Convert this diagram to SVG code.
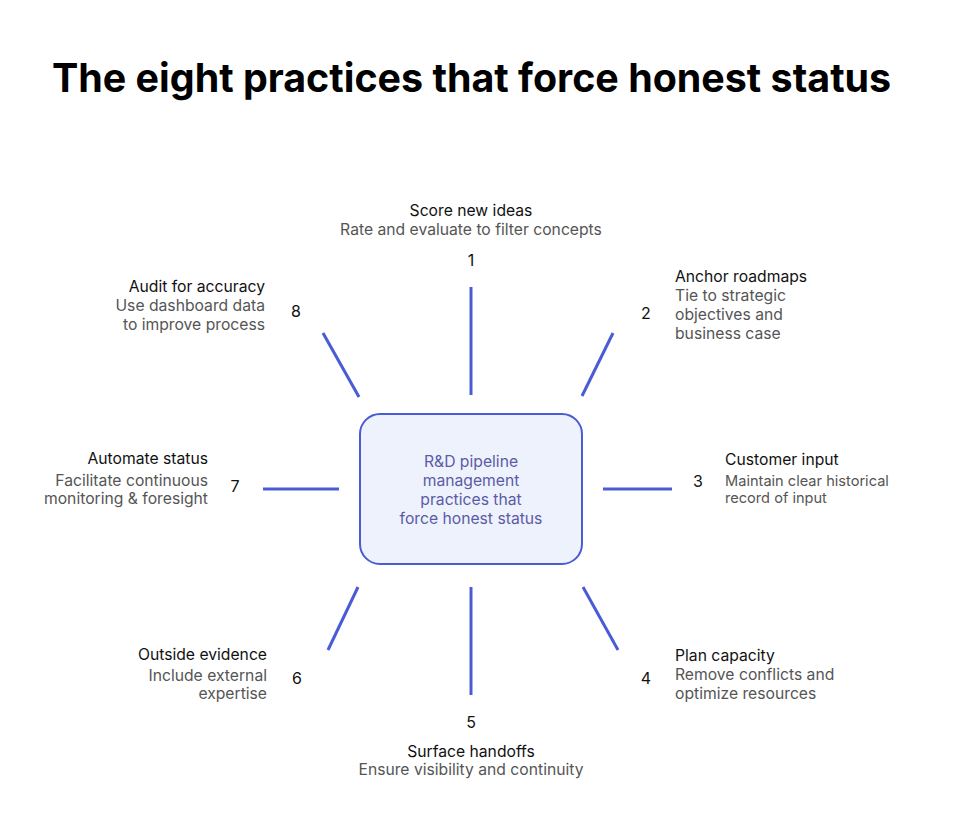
<svg xmlns="http://www.w3.org/2000/svg" width="960" height="822" viewBox="0 0 960 822">
<style>
text{font-family:Inter,"Noto Sans","Liberation Sans",sans-serif}
.title{font-size:39.4px;font-weight:700;fill:#000}
.h{font-size:15.7px;fill:#111}
.d{font-size:15.7px;fill:#555}
.s{font-size:14.6px}
.n{font-size:16px;fill:#111;text-anchor:middle}
.c{font-size:15.7px;fill:#5b5ba6;text-anchor:middle}
.conn line{stroke:#4a5bd6;stroke-width:3;stroke-linecap:butt}
.mid{text-anchor:middle}
.end{text-anchor:end}
</style>
<rect width="960" height="822" fill="#fff"/>
<text class="title" x="52" y="92">The eight practices that force honest status</text>
<g id="connectors" class="conn">
<line x1="471" y1="287" x2="471" y2="395"/>
<line x1="613" y1="333" x2="582" y2="396"/>
<line x1="603" y1="489" x2="672" y2="489"/>
<line x1="583" y1="587" x2="618" y2="650"/>
<line x1="471" y1="587" x2="471" y2="695"/>
<line x1="358" y1="587" x2="328" y2="650"/>
<line x1="263" y1="489" x2="339" y2="489"/>
<line x1="323" y1="333" x2="359" y2="397"/>
</g>
<g id="center">
<rect x="360" y="414" width="222" height="150" rx="20" fill="#eef2fd" stroke="#4a5bd6" stroke-width="2"/>
<text class="c" x="471" y="467">R&amp;D pipeline</text>
<text class="c" x="471" y="486">management</text>
<text class="c" x="471" y="505">practices that</text>
<text class="c" x="471" y="524">force honest status</text>
</g>
<g id="p1">
<text class="h mid" x="471" y="216">Score new ideas</text>
<text class="d mid" x="471" y="235">Rate and evaluate to filter concepts</text>
<text class="n" x="471" y="266">1</text>
</g>
<g id="p2">
<text class="n" x="646" y="319">2</text>
<text class="h" x="675" y="282">Anchor roadmaps</text>
<text class="d" x="675" y="301">Tie to strategic</text>
<text class="d" x="675" y="320">objectives and</text>
<text class="d" x="675" y="339">business case</text>
</g>
<g id="p3">
<text class="n" x="698" y="487">3</text>
<text class="h" x="725" y="465">Customer input</text>
<text class="d s" x="725" y="486">Maintain clear historical</text>
<text class="d s" x="725" y="503">record of input</text>
</g>
<g id="p4">
<text class="n" x="646" y="684">4</text>
<text class="h" x="675" y="661">Plan capacity</text>
<text class="d" x="675" y="680">Remove conflicts and</text>
<text class="d" x="675" y="699">optimize resources</text>
</g>
<g id="p5">
<text class="n" x="471" y="728">5</text>
<text class="h mid" x="471" y="757">Surface handoffs</text>
<text class="d mid" x="471" y="775">Ensure visibility and continuity</text>
</g>
<g id="p6">
<text class="n" x="297" y="684">6</text>
<text class="h end" x="267" y="660">Outside evidence</text>
<text class="d end" x="267" y="681">Include external</text>
<text class="d end" x="267" y="699">expertise</text>
</g>
<g id="p7">
<text class="n" x="235" y="492">7</text>
<text class="h end" x="208" y="464">Automate status</text>
<text class="d end" x="208" y="486">Facilitate continuous</text>
<text class="d end" x="208" y="504">monitoring &amp; foresight</text>
</g>
<g id="p8">
<text class="n" x="296" y="317">8</text>
<text class="h end" x="265" y="292">Audit for accuracy</text>
<text class="d end" x="265" y="311">Use dashboard data</text>
<text class="d end" x="265" y="330">to improve process</text>
</g>
</svg>
